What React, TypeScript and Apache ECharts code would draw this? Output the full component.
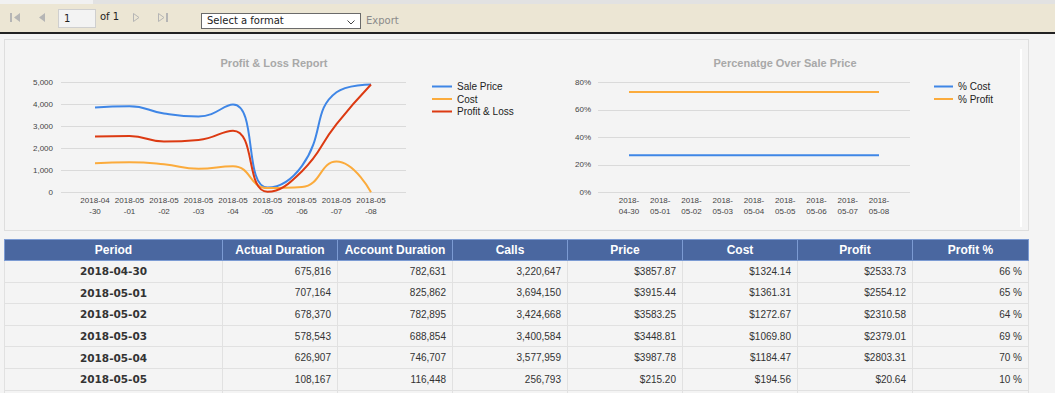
import React, { useEffect, useRef } from "react";
import * as echarts from "echarts";

// ---------- chart data ----------
const chartDates = [
  "2018-04-30", "2018-05-01", "2018-05-02", "2018-05-03", "2018-05-04",
  "2018-05-05", "2018-05-06", "2018-05-07", "2018-05-08",
];
const salePrice = [3857.87, 3915.44, 3583.25, 3448.81, 3987.78, 215.2, 1200, 4550, 4900];
const costValues = [1324.14, 1361.31, 1272.67, 1069.8, 1184.47, 194.56, 240, 1400, 0];
const profitValues = [2533.73, 2554.12, 2310.58, 2379.01, 2803.31, 20.64, 960, 3100, 4900];
const pctCost = [27, 27, 27, 27, 27, 27, 27, 27, 27];
const pctProfit = [73, 73, 73, 73, 73, 73, 73, 73, 73];

const leftTitle = "Profit & Loss Report";
const rightTitle = "Percenatge Over Sale Price";
const leftLegend = ["Sale Price", "Cost", "Profit & Loss"];
const rightLegend = ["% Cost", "% Profit"];

// ---------- table data ----------
const tableHeaders = ["Period", "Actual Duration", "Account Duration", "Calls", "Price", "Cost", "Profit", "Profit %"];
const periods = ["2018-04-30", "2018-05-01", "2018-05-02", "2018-05-03", "2018-05-04", "2018-05-05"];
const actualDuration = ["675,816", "707,164", "678,370", "578,543", "626,907", "108,167"];
const accountDuration = ["782,631", "825,862", "782,895", "688,854", "746,707", "116,448"];
const calls = ["3,220,647", "3,694,150", "3,424,668", "3,400,584", "3,577,959", "256,793"];
const prices = ["$3857.87", "$3915.44", "$3583.25", "$3448.81", "$3987.78", "$215.20"];
const costs = ["$1324.14", "$1361.31", "$1272.67", "$1069.80", "$1184.47", "$194.56"];
const profits = ["$2533.73", "$2554.12", "$2310.58", "$2379.01", "$2803.31", "$20.64"];
const profitPct = ["66 %", "65 %", "64 %", "69 %", "70 %", "10 %"];

const BLUE = "#3f86e6";
const ORANGE = "#fbab3c";
const RED = "#dc3a12";
const FONT = "'Liberation Sans', Arial, sans-serif";
const GRID_LINE = "#dadada";

function Charts() {
  const ref = useRef<HTMLDivElement>(null);
  useEffect(() => {
    if (!ref.current) return;
    const chart = echarts.init(ref.current, undefined, { renderer: "svg" });
    const top = 42.3;
    const height = 110;
    const ySplit = { show: true, lineStyle: { color: GRID_LINE, width: 1 } };
    const yLabel = { fontSize: 8, color: "#444", fontFamily: FONT };
    const xLabelBase = { fontSize: 8, color: "#444", fontFamily: FONT, interval: 0, margin: 3, lineHeight: 11 };
    const lineSeries = (name: string, data: number[], color: string, xi: number, yi: number) => ({
      name,
      type: "line",
      data,
      xAxisIndex: xi,
      yAxisIndex: yi,
      smooth: true,
      showSymbol: false,
      clip: false,
      lineStyle: { width: 2, color },
      itemStyle: { color },
    });
    chart.setOption({
      animation: false,
      textStyle: { fontFamily: FONT },
      title: [
        {
          text: leftTitle, left: 274, top: 17, textAlign: "center", padding: 0,
          textStyle: { fontSize: 11, fontWeight: "bold", color: "#a8a8a8", fontFamily: FONT },
        },
        {
          text: rightTitle, left: 785, top: 17, textAlign: "center", padding: 0,
          textStyle: { fontSize: 11, fontWeight: "bold", color: "#a8a8a8", fontFamily: FONT },
        },
      ],
      legend: [
        {
          data: leftLegend, left: 432, top: 40.5, orient: "vertical", icon: "rect",
          itemWidth: 20, itemHeight: 2, itemGap: 0.5, padding: 0,
          textStyle: { fontSize: 10, color: "#222", lineHeight: 12, fontFamily: FONT },
        },
        {
          data: rightLegend, left: 934, top: 40.5, orient: "vertical", icon: "rect",
          itemWidth: 19, itemHeight: 2, itemGap: 0.5, padding: 0,
          textStyle: { fontSize: 10, color: "#222", lineHeight: 12, fontFamily: FONT },
        },
      ],
      grid: [
        { left: 61, top, width: 345, height },
        { left: 95, top, width: 276, height },
        { left: 598, top, width: 312, height },
        { left: 629, top, width: 250, height },
      ],
      xAxis: [
        { gridIndex: 0, type: "category", data: chartDates, show: false },
        {
          gridIndex: 1, type: "category", data: chartDates, boundaryGap: false,
          axisLine: { show: false }, axisTick: { show: false }, splitLine: { show: false },
          axisLabel: { ...xLabelBase, formatter: (v: string) => v.slice(0, 7) + "\n" + v.slice(7) },
        },
        { gridIndex: 2, type: "category", data: chartDates, show: false },
        {
          gridIndex: 3, type: "category", data: chartDates, boundaryGap: false,
          axisLine: { show: false }, axisTick: { show: false }, splitLine: { show: false },
          axisLabel: { ...xLabelBase, formatter: (v: string) => v.slice(0, 5) + "\n" + v.slice(5) },
        },
      ],
      yAxis: [
        {
          gridIndex: 0, type: "value", min: 0, max: 5000, interval: 1000,
          axisLine: { show: false }, axisTick: { show: false }, splitLine: ySplit,
          axisLabel: { ...yLabel, margin: 8 },
        },
        { gridIndex: 1, type: "value", min: 0, max: 5000, show: false, splitLine: { show: false } },
        {
          gridIndex: 2, type: "value", min: 0, max: 80, interval: 20,
          axisLine: { show: false }, axisTick: { show: false }, splitLine: ySplit,
          axisLabel: { ...yLabel, margin: 7, formatter: "{value}%" },
        },
        { gridIndex: 3, type: "value", min: 0, max: 80, show: false, splitLine: { show: false } },
      ],
      series: [
        lineSeries("Sale Price", salePrice, BLUE, 1, 1),
        lineSeries("Cost", costValues, ORANGE, 1, 1),
        lineSeries("Profit & Loss", profitValues, RED, 1, 1),
        lineSeries("% Cost", pctCost, BLUE, 3, 3),
        lineSeries("% Profit", pctProfit, ORANGE, 3, 3),
      ],
    });
    return () => chart.dispose();
  }, []);
  return (
    <div
      ref={ref}
      style={{ position: "absolute", left: 0, top: 40, width: 1040, height: 190 }}
    />
  );
}

const ICON = "#b5b5b5";
const TB_FONT = "'DejaVu Sans', Verdana, sans-serif";

function Toolbar() {
  return (
    <>
      <div style={{ position: "absolute", left: 0, top: 0, width: 1055, height: 4, background: "#e2e2e2" }} />
      <div style={{ position: "absolute", left: 0, top: 0, width: 93, height: 4, background: "#f1f1f1" }} />
      <div style={{ position: "absolute", left: 0, top: 4, width: 1055, height: 28, background: "#ece6d4" }} />
      <div style={{ position: "absolute", left: 0, top: 32, width: 1055, height: 2, background: "#222" }} />
      <svg style={{ position: "absolute", left: 10, top: 13 }} width={11} height={9}>
        <rect x={0} y={0} width={2} height={9} fill={ICON} />
        <polygon points="10,0 10,9 4,4.5" fill={ICON} />
      </svg>
      <svg style={{ position: "absolute", left: 39, top: 13 }} width={7} height={9}>
        <polygon points="6,0 6,9 0,4.5" fill={ICON} />
      </svg>
      <div
        style={{
          position: "absolute", left: 58, top: 9, width: 38, height: 19, boxSizing: "border-box",
          border: "1px solid #cfcfcf", background: "#f3f3f3", fontFamily: TB_FONT, fontSize: 10,
          color: "#222", paddingLeft: 5, lineHeight: "17px",
        }}
      >
        1
      </div>
      <div style={{ position: "absolute", left: 100, top: 11, fontFamily: TB_FONT, fontSize: 10, color: "#222", lineHeight: "12px" }}>
        of 1
      </div>
      <svg style={{ position: "absolute", left: 133, top: 13 }} width={7} height={9}>
        <polygon points="0.5,0.5 0.5,8.5 6,4.5" fill="none" stroke={ICON} strokeWidth={1} />
      </svg>
      <svg style={{ position: "absolute", left: 158, top: 13 }} width={11} height={9}>
        <polygon points="0.5,0.5 0.5,8.5 6,4.5" fill="none" stroke={ICON} strokeWidth={1} />
        <rect x={8} y={0} width={2} height={9} fill={ICON} />
      </svg>
      <div
        style={{
          position: "absolute", left: 201, top: 13, width: 160, height: 16, boxSizing: "border-box",
          border: "1px solid #6a6a6a", background: "#fff", fontFamily: TB_FONT, fontSize: 10,
          color: "#222", paddingLeft: 5, lineHeight: "14px",
        }}
      >
        Select a format
        <svg style={{ position: "absolute", left: 145, top: 6 }} width={8} height={5}>
          <polyline points="0.5,0.5 4,4 7.5,0.5" fill="none" stroke="#444" strokeWidth={1} />
        </svg>
      </div>
      <div style={{ position: "absolute", left: 366, top: 15, fontFamily: TB_FONT, fontSize: 10, color: "#8a8a8a", lineHeight: "12px" }}>
        Export
      </div>
    </>
  );
}

function DataTable() {
  const widths = [218, 115, 115, 115, 115, 115, 115, 116];
  const cols = [actualDuration, accountDuration, calls, prices, costs, profits, profitPct];
  const th: React.CSSProperties = {
    background: "#4a67a0", color: "#fff", fontFamily: FONT, fontWeight: "bold", fontSize: 12,
    border: "1px solid #7c9bd3", height: 20, padding: 0, textAlign: "center",
  };
  const td: React.CSSProperties = {
    border: "1px solid #e1e1e1", background: "#f4f4f4", fontFamily: FONT, fontSize: 10,
    color: "#333", height: 20.6, padding: "0 6px 0 0", textAlign: "right",
  };
  const tdPeriod: React.CSSProperties = {
    ...td, textAlign: "center", fontFamily: "'DejaVu Sans', Verdana, sans-serif",
    fontWeight: "bold", fontSize: 10.5, padding: 0,
  };
  return (
    <table
      style={{
        position: "absolute", left: 4, top: 239, width: 1024, borderCollapse: "collapse",
        tableLayout: "fixed",
      }}
    >
      <colgroup>
        {widths.map((w, i) => (
          <col key={i} style={{ width: w }} />
        ))}
      </colgroup>
      <thead>
        <tr>
          {tableHeaders.map((h) => (
            <th key={h} style={th}>{h}</th>
          ))}
        </tr>
      </thead>
      <tbody>
        {periods.map((p, r) => (
          <tr key={p}>
            <td style={tdPeriod}>{p}</td>
            {cols.map((c, i) => (
              <td key={i} style={td}>{c[r]}</td>
            ))}
          </tr>
        ))}
        <tr>
          {widths.map((_, i) => (
            <td key={i} style={td}></td>
          ))}
        </tr>
      </tbody>
    </table>
  );
}

export default function App() {
  return (
    <div
      style={{
        position: "fixed", left: 0, top: 0, width: 1055, height: 393, overflow: "hidden",
        background: "#f4f4f4",
      }}
    >
      <Toolbar />
      <div
        style={{
          position: "absolute", left: 4, top: 39, width: 1025, height: 192, boxSizing: "border-box",
          border: "1px solid #dedede", background: "#f4f4f4",
        }}
      />
      <div style={{ position: "absolute", left: 1020, top: 49, width: 1.5, height: 178, background: "#ffffff" }} />
      <Charts />
      <DataTable />
    </div>
  );
}
